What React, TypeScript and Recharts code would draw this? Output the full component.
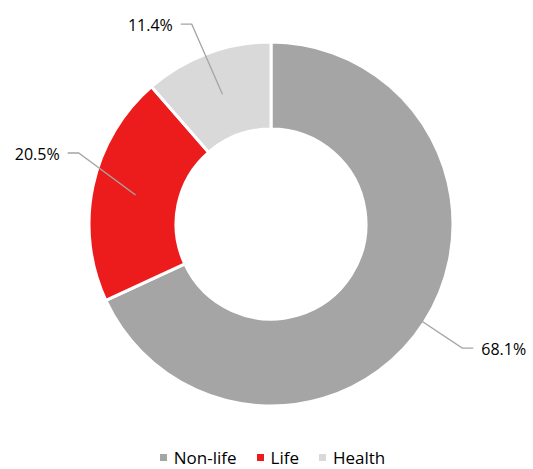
import { Cell, Legend, Pie, PieChart } from "recharts";

const categories = ["Non-life", "Life", "Health"];
const shares = [68.1, 20.5, 11.4];
const sliceColors = ["#a5a5a5", "#ed1c1c", "#d9d9d9"];

const data = categories.map((name, i) => ({ name, value: shares[i] }));

// where each leader line bends: angle offset from the slice middle and radius
const elbows: Record<string, { dAngle: number; r: number }> = {
  "Non-life": { dAngle: -0.4, r: 228 },
  Life: { dAngle: -8.2, r: 205 },
  Health: { dAngle: 1.1, r: 215 }
};

const RAD = Math.PI / 180;
const FONT = "'Open Sans', sans-serif";

function polar(cx: number, cy: number, r: number, angle: number) {
  return { x: cx + r * Math.cos(-angle * RAD), y: cy + r * Math.sin(-angle * RAD) };
}

function LeaderLabel(props: any) {
  const { cx, cy, midAngle, innerRadius, outerRadius, name, value } = props;
  const start = polar(cx, cy, (innerRadius + outerRadius) / 2, midAngle);
  const cfg = elbows[name];
  const bend = polar(cx, cy, cfg.r, midAngle + cfg.dAngle);
  const right = bend.x > cx;
  const endX = bend.x + (right ? 11 : -11);
  const textX = endX + (right ? 8 : -8);
  return (
    <g>
      <polyline
        points={`${start.x},${start.y} ${bend.x},${bend.y} ${endX},${bend.y}`}
        fill="none"
        stroke="#a5a5a5"
        strokeWidth={1.3}
      />
      <text
        x={textX}
        y={bend.y + 1}
        textAnchor={right ? "start" : "end"}
        dominantBaseline="central"
        fill="#000"
        style={{ fontFamily: FONT, fontSize: 16 }}
      >
        {`${Number(value).toFixed(1)}%`}
      </text>
    </g>
  );
}

// legend drawn in series order, same as the reference
function LegendRow() {
  return (
    <div
      style={{
        display: "flex",
        justifyContent: "center",
        gap: 20,
        fontFamily: FONT,
        fontSize: 17,
        lineHeight: "17px",
        height: 17,
        color: "#000",
        paddingLeft: 12
      }}
    >
      {categories.map((name, i) => (
        <span key={name} style={{ display: "flex", alignItems: "center" }}>
          <span
            style={{ width: 7, height: 7, background: sliceColors[i], marginRight: 7, display: "inline-block" }}
          />
          {name}
        </span>
      ))}
    </div>
  );
}

export default function App() {
  return (
    <div style={{ position: "absolute", left: 0, top: 0, width: 533, height: 469, background: "#fff" }}>
      <PieChart width={533} height={469} margin={{ top: 0, right: 0, bottom: 0, left: 0 }}>
        <Pie
          data={data}
          dataKey="value"
          nameKey="name"
          cx={271}
          cy={224}
          innerRadius={95}
          outerRadius={182}
          startAngle={90}
          endAngle={-270}
          stroke="#ffffff"
          strokeWidth={3}
          label={LeaderLabel}
          labelLine={false}
          isAnimationActive={false}
        >
          {data.map((d, i) => (
            <Cell key={d.name} fill={sliceColors[i]} />
          ))}
        </Pie>
        <Legend
          verticalAlign="bottom"
          align="center"
          content={<LegendRow />}
          wrapperStyle={{ bottom: 3, height: 17 }}
        />
      </PieChart>
    </div>
  );
}
